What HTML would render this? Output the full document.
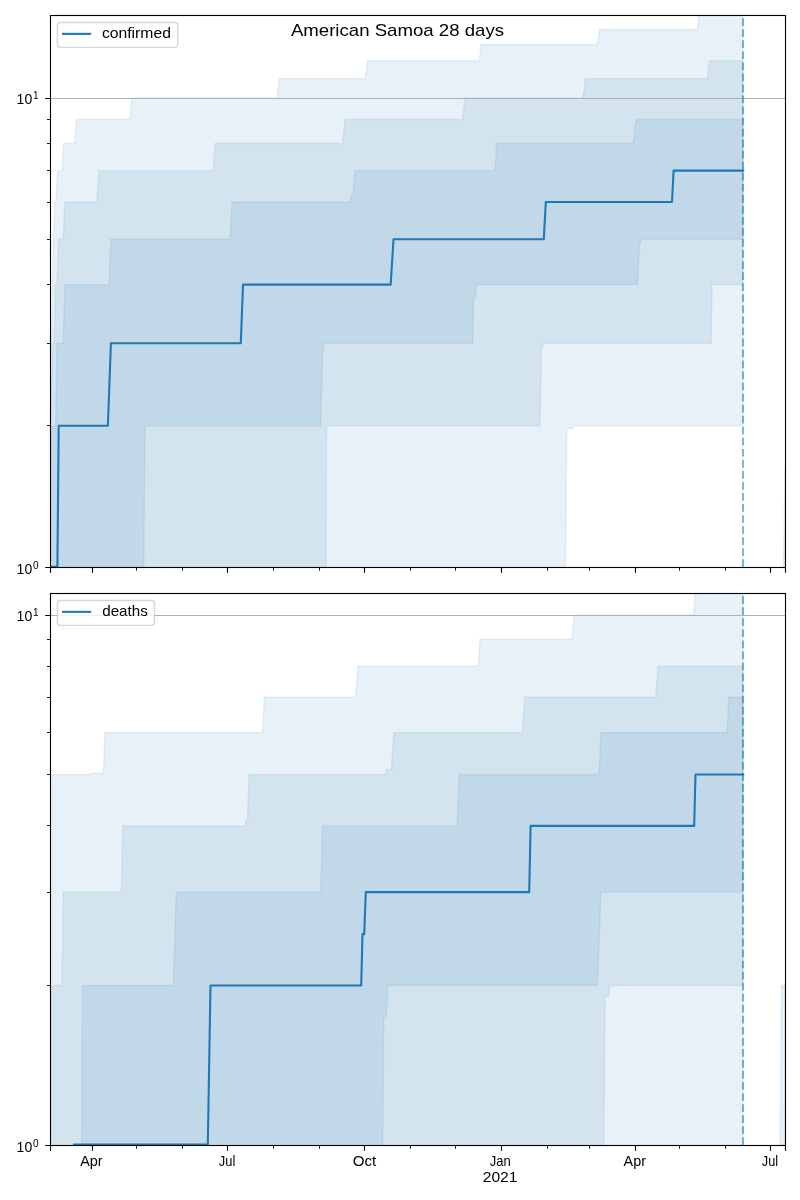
<!DOCTYPE html>
<html><head><meta charset="utf-8"><title>American Samoa 28 days</title>
<style>html,body{margin:0;padding:0;background:#fff}svg{display:block;will-change:transform}</style></head>
<body>
<svg width="800" height="1200" viewBox="0 0 800 1200" font-family="Liberation Sans, sans-serif" fill="#000">
<rect width="800" height="1200" fill="#fff"/>
<clipPath id="c1"><rect x="50.0" y="15.0" width="735.0" height="552.0"/></clipPath>
<g clip-path="url(#c1)">
<path d="M50.00,392.97 L54.60,202.05 L56.00,202.05 L57.50,170.65 L62.00,170.65 L63.50,143.45 L74.70,143.45 L76.50,119.46 L130.00,119.46 L131.80,98.00 L277.00,98.00 L279.20,78.59 L365.00,78.59 L367.40,60.86 L479.40,60.86 L481.20,44.56 L597.20,44.56 L599.50,29.47 L697.50,29.47 L700.00,2.27 L743.00,2.27 L743.00,425.82 L573.80,425.82 L572.50,428.38 L566.90,428.38 L565.30,579.00 L50.00,579.00Z" fill="#1f77b4" fill-opacity="0.1" stroke="#1f77b4" stroke-opacity="0.1" stroke-width="1.39" stroke-linejoin="miter"/>
<path d="M50.00,425.82 L53.00,343.23 L54.00,343.23 L55.50,284.63 L57.00,284.63 L58.50,239.18 L63.20,239.18 L64.80,202.05 L96.70,202.05 L99.20,170.65 L212.00,170.65 L213.50,167.04 L215.20,143.45 L342.50,143.45 L345.00,119.46 L462.50,119.46 L465.00,98.00 L583.00,98.00 L585.50,78.59 L707.50,78.59 L709.60,60.86 L743.00,60.86 L743.00,284.63 L712.00,284.63 L711.20,343.23 L543.80,343.23 L541.30,349.64 L540.00,425.82 L326.60,425.82 L325.90,579.00 L50.00,579.00Z" fill="#1f77b4" fill-opacity="0.1" stroke="#1f77b4" stroke-opacity="0.1" stroke-width="1.39" stroke-linejoin="miter"/>
<path d="M50.00,425.82 L55.70,425.82 L57.00,343.23 L63.30,343.23 L64.80,284.63 L109.00,284.63 L111.00,239.18 L230.00,239.18 L232.00,202.05 L350.50,202.05 L351.80,193.73 L353.00,193.73 L355.00,170.65 L495.00,170.65 L496.60,143.45 L633.30,143.45 L635.30,124.73 L636.30,119.46 L743.00,119.46 L743.00,239.18 L640.80,239.18 L639.30,248.77 L637.50,284.63 L476.50,284.63 L475.30,297.07 L473.70,297.07 L472.70,343.23 L323.80,343.23 L322.40,359.48 L320.60,425.82 L145.00,425.82 L143.60,579.00 L50.00,579.00Z" fill="#1f77b4" fill-opacity="0.1" stroke="#1f77b4" stroke-opacity="0.1" stroke-width="1.39" stroke-linejoin="miter"/>
<path d="M783.40,567.00 L785.00,467.48 L785.00,567.00Z" fill="#1f77b4" fill-opacity="0.1" stroke="#1f77b4" stroke-opacity="0.1" stroke-width="1.39" stroke-linejoin="miter"/>
<line x1="50.0" x2="785.5" y1="98.5" y2="98.5" stroke="#b0b0b0" stroke-width="1.11"/>
<path d="M50.00,566.69 L57.40,566.69 L58.70,425.82 L107.90,425.82 L110.90,343.23 L240.80,343.23 L243.00,284.63 L390.70,284.63 L393.50,239.18 L543.80,239.18 L545.80,202.05 L672.00,202.05 L673.60,170.65 L743.20,170.65" fill="none" stroke="#1f77b4" stroke-width="2.08" stroke-linejoin="round" stroke-linecap="square"/>
<line x1="743.0" x2="743.0" y1="567.0" y2="15.0" stroke="#1f77b4" stroke-opacity="0.56" stroke-width="2.08" stroke-dasharray="7.708 3.333"/>
</g>
<rect x="50.5" y="15.5" width="735.0" height="552.0" fill="none" stroke="#000" stroke-width="1.11" stroke-linejoin="miter"/>
<path d="M50.5,567.5 v5.2 M92.5,567.5 v5.2 M227.5,567.5 v5.2 M364.5,567.5 v5.2 M501.5,567.5 v5.2 M635.5,567.5 v5.2 M770.5,567.5 v5.2 M785.5,567.5 v5.2" stroke="#000" stroke-width="1.11" fill="none"/>
<path d="M136.5,567.5 v3.2 M182.5,567.5 v3.2 M273.5,567.5 v3.2 M319.5,567.5 v3.2 M410.5,567.5 v3.2 M455.5,567.5 v3.2 M547.5,567.5 v3.2 M589.5,567.5 v3.2 M679.5,567.5 v3.2 M725.5,567.5 v3.2" stroke="#000" stroke-width="0.9" fill="none"/>
<path d="M50.5,567.5 h-5.3 M50.5,98.5 h-5.3" stroke="#000" stroke-width="1.11" fill="none"/>
<path d="M50.5,425.5 h-3.5 M50.5,343.5 h-3.5 M50.5,284.5 h-3.5 M50.5,239.5 h-3.5 M50.5,202.5 h-3.5 M50.5,170.5 h-3.5 M50.5,143.5 h-3.5 M50.5,119.5 h-3.5" stroke="#000" stroke-width="0.9" fill="none"/>
<text x="16.60" y="573.90" font-size="14.1" text-anchor="start" textLength="15.60" lengthAdjust="spacingAndGlyphs">10</text>
<text x="32.90" y="568.60" font-size="10.2" text-anchor="start" textLength="5.60" lengthAdjust="spacingAndGlyphs">0</text>
<text x="16.60" y="103.85" font-size="14.1" text-anchor="start" textLength="15.60" lengthAdjust="spacingAndGlyphs">10</text>
<text x="32.90" y="98.55" font-size="10.2" text-anchor="start" textLength="5.60" lengthAdjust="spacingAndGlyphs">1</text>
<rect x="57.45" y="22.45" width="120.4" height="24.95" rx="2.78" ry="2.78" fill="#fff" fill-opacity="0.8" stroke="#ccc" stroke-opacity="0.8" stroke-width="1.39"/>
<line x1="62.0" x2="91.2" y1="33.85" y2="33.85" stroke="#1f77b4" stroke-width="2.08"/>
<text x="101.90" y="37.82" font-size="14.3" text-anchor="start" textLength="69.00" lengthAdjust="spacingAndGlyphs">confirmed</text>
<clipPath id="c2"><rect x="50.0" y="593.0" width="735.0" height="552.0"/></clipPath>
<g clip-path="url(#c2)">
<path d="M50.00,774.55 L91.00,774.55 L91.60,773.17 L103.40,773.17 L104.80,732.58 L262.50,732.58 L264.30,697.10 L355.50,697.10 L358.00,666.36 L478.00,666.36 L480.00,639.25 L572.00,639.25 L574.30,615.00 L693.70,615.00 L695.80,580.84 L743.00,580.84 L743.00,1157.00 L50.00,1157.00Z" fill="#1f77b4" fill-opacity="0.1" stroke="#1f77b4" stroke-opacity="0.1" stroke-width="1.39" stroke-linejoin="miter"/>
<path d="M50.00,985.45 L62.00,985.45 L63.25,892.13 L121.40,892.13 L122.80,825.91 L245.00,825.91 L246.30,819.66 L247.40,819.66 L249.30,774.55 L385.00,774.55 L386.30,769.54 L391.30,769.54 L393.80,732.58 L522.50,732.58 L524.50,697.10 L655.50,697.10 L658.20,666.36 L743.00,666.36 L743.00,985.45 L609.50,985.45 L608.50,996.53 L605.00,996.53 L603.80,1157.00 L50.00,1157.00Z" fill="#1f77b4" fill-opacity="0.1" stroke="#1f77b4" stroke-opacity="0.1" stroke-width="1.39" stroke-linejoin="miter"/>
<path d="M50.00,1157.00 L81.60,1157.00 L82.40,985.45 L173.30,985.45 L176.30,892.13 L320.70,892.13 L322.50,825.91 L457.00,825.91 L459.30,774.55 L599.20,774.55 L600.80,732.58 L727.00,732.58 L728.80,697.10 L743.00,697.10 L743.00,892.13 L600.80,892.13 L597.50,985.45 L388.00,985.45 L386.30,1016.19 L383.80,1016.19 L382.60,1157.00 L50.00,1157.00Z" fill="#1f77b4" fill-opacity="0.1" stroke="#1f77b4" stroke-opacity="0.1" stroke-width="1.39" stroke-linejoin="miter"/>
<path d="M780.20,1145.00 L781.40,985.45 L785.00,985.45 L785.00,1145.00Z" fill="#1f77b4" fill-opacity="0.1" stroke="#1f77b4" stroke-opacity="0.1" stroke-width="1.39" stroke-linejoin="miter"/>
<line x1="50.0" x2="785.5" y1="615.5" y2="615.5" stroke="#b0b0b0" stroke-width="1.11"/>
<path d="M74.10,1144.65 L207.80,1144.65 L210.50,985.45 L361.20,985.45 L362.50,934.09 L364.20,934.09 L365.80,892.13 L529.20,892.13 L530.60,825.91 L694.20,825.91 L695.50,774.55 L743.20,774.55" fill="none" stroke="#1f77b4" stroke-width="2.08" stroke-linejoin="round" stroke-linecap="square"/>
<line x1="743.0" x2="743.0" y1="1145.0" y2="593.0" stroke="#1f77b4" stroke-opacity="0.56" stroke-width="2.08" stroke-dasharray="7.708 3.333"/>
</g>
<rect x="50.5" y="593.5" width="735.0" height="552.0" fill="none" stroke="#000" stroke-width="1.11" stroke-linejoin="miter"/>
<path d="M50.5,1145.5 v5.2 M92.5,1145.5 v5.2 M227.5,1145.5 v5.2 M364.5,1145.5 v5.2 M501.5,1145.5 v5.2 M635.5,1145.5 v5.2 M770.5,1145.5 v5.2 M785.5,1145.5 v5.2" stroke="#000" stroke-width="1.11" fill="none"/>
<path d="M136.5,1145.5 v3.2 M182.5,1145.5 v3.2 M273.5,1145.5 v3.2 M319.5,1145.5 v3.2 M410.5,1145.5 v3.2 M455.5,1145.5 v3.2 M547.5,1145.5 v3.2 M589.5,1145.5 v3.2 M679.5,1145.5 v3.2 M725.5,1145.5 v3.2" stroke="#000" stroke-width="0.9" fill="none"/>
<path d="M50.5,1145.5 h-5.3 M50.5,615.5 h-5.3" stroke="#000" stroke-width="1.11" fill="none"/>
<path d="M50.5,985.5 h-3.5 M50.5,892.5 h-3.5 M50.5,825.5 h-3.5 M50.5,774.5 h-3.5 M50.5,732.5 h-3.5 M50.5,697.5 h-3.5 M50.5,666.5 h-3.5 M50.5,639.5 h-3.5" stroke="#000" stroke-width="0.9" fill="none"/>
<text x="16.60" y="1151.90" font-size="14.1" text-anchor="start" textLength="15.60" lengthAdjust="spacingAndGlyphs">10</text>
<text x="32.90" y="1146.60" font-size="10.2" text-anchor="start" textLength="5.60" lengthAdjust="spacingAndGlyphs">0</text>
<text x="16.60" y="620.85" font-size="14.1" text-anchor="start" textLength="15.60" lengthAdjust="spacingAndGlyphs">10</text>
<text x="32.90" y="615.55" font-size="10.2" text-anchor="start" textLength="5.60" lengthAdjust="spacingAndGlyphs">1</text>
<rect x="57.45" y="600.45" width="97.0" height="24.95" rx="2.78" ry="2.78" fill="#fff" fill-opacity="0.8" stroke="#ccc" stroke-opacity="0.8" stroke-width="1.39"/>
<line x1="62.0" x2="91.2" y1="611.85" y2="611.85" stroke="#1f77b4" stroke-width="2.08"/>
<text x="102.20" y="615.82" font-size="14.3" text-anchor="start" textLength="45.60" lengthAdjust="spacingAndGlyphs">deaths</text>
<text x="290.90" y="36.40" font-size="17" text-anchor="start" textLength="213.20" lengthAdjust="spacingAndGlyphs">American Samoa 28 days</text>
<text x="80.20" y="1165.90" font-size="14.1" text-anchor="start" textLength="22.40" lengthAdjust="spacingAndGlyphs">Apr</text>
<text x="218.80" y="1165.90" font-size="14.1" text-anchor="start" textLength="16.50" lengthAdjust="spacingAndGlyphs">Jul</text>
<text x="352.75" y="1165.90" font-size="14.1" text-anchor="start" textLength="23.50" lengthAdjust="spacingAndGlyphs">Oct</text>
<text x="489.70" y="1165.90" font-size="14.1" text-anchor="start" textLength="21.00" lengthAdjust="spacingAndGlyphs">Jan</text>
<text x="623.60" y="1165.90" font-size="14.1" text-anchor="start" textLength="22.40" lengthAdjust="spacingAndGlyphs">Apr</text>
<text x="761.80" y="1165.90" font-size="14.1" text-anchor="start" textLength="16.30" lengthAdjust="spacingAndGlyphs">Jul</text>
<text x="482.70" y="1182.40" font-size="14.1" text-anchor="start" textLength="34.80" lengthAdjust="spacingAndGlyphs">2021</text>
</svg>
</body></html>
